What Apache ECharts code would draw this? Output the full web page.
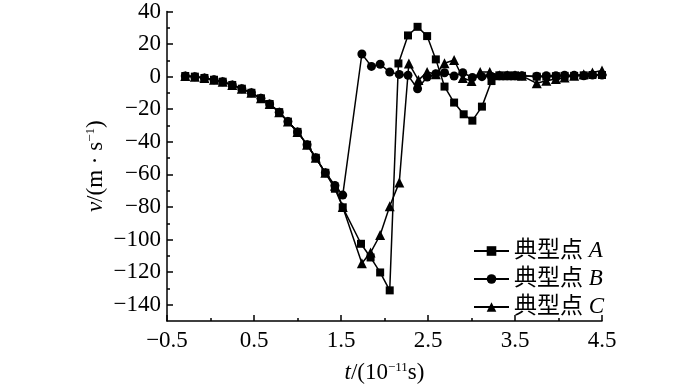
<!DOCTYPE html>
<html><head><meta charset="utf-8">
<script src="https://cdn.jsdelivr.net/npm/echarts@6/dist/echarts.min.js"></script>
<style>html,body{margin:0;padding:0;background:#fff}#c{width:700px;height:389px}</style>
</head><body><div id="c"></div>
<script>
const tA = [-0.29,-0.18,-0.07,0.04,0.14,0.25,0.36,0.47,0.58,0.68,0.79,0.89,1.00,1.11,1.21,1.32,1.43,1.52,1.73,1.84,1.95,2.06,2.16,2.27,2.38,2.49,2.59,2.69,2.80,2.91,3.01,3.12,3.23,3.32,3.41,3.50,3.58,3.75,3.86,3.97,4.07,4.18,4.29,4.39,4.50];
const vA = [0.4,0,-0.8,-1.9,-3.1,-5.1,-7.4,-9.9,-13.3,-16.8,-21.8,-27.6,-33.9,-41.8,-49.8,-59,-68.8,-80.2,-102.6,-111,-120.2,-131.2,8.1,25.3,30.6,24.9,10.6,-6.1,-15.9,-23.1,-27,-18.4,-2.7,0.8,0.8,0.8,0.5,0,0,0.3,0.5,0.5,0.8,1,1];
const tB = [-0.29,-0.18,-0.07,0.04,0.14,0.25,0.36,0.47,0.58,0.68,0.79,0.89,1.00,1.11,1.21,1.32,1.43,1.52,1.74,1.85,1.95,2.06,2.17,2.27,2.38,2.49,2.59,2.69,2.80,2.90,3.01,3.12,3.23,3.32,3.41,3.50,3.58,3.75,3.86,3.97,4.07,4.18,4.29,4.39,4.50];
const vB = [0.4,0,-0.8,-1.9,-3.1,-5.1,-7.4,-9.9,-13.3,-16.8,-21.8,-27.6,-33.9,-41.8,-49.8,-59,-66.8,-72.7,13.9,6.3,7.6,2.8,1.4,0.8,-7.4,-0.2,1.8,2.4,0.4,2.4,-0.5,0,0,0.5,0.5,0.5,0.5,0.3,0.5,0.5,0.8,0.8,0.5,1,1];
const tC = [-0.29,-0.18,-0.07,0.04,0.14,0.25,0.36,0.47,0.58,0.68,0.79,0.89,1.00,1.11,1.21,1.32,1.43,1.52,1.74,1.84,1.95,2.06,2.17,2.28,2.39,2.49,2.59,2.69,2.80,2.90,3.00,3.10,3.21,3.32,3.41,3.50,3.58,3.75,3.86,3.97,4.07,4.18,4.29,4.39,4.50];
const vC = [0.4,0,-0.8,-1.9,-3.1,-5.1,-7.4,-9.9,-13.3,-16.8,-21.8,-27.6,-33.9,-41.8,-49.8,-59,-67,-80,-114.5,-108,-97.2,-79.6,-64.9,8.1,-2.1,2.8,1.5,8.2,10.2,-0.8,-2.7,2.8,2.8,0.8,0.8,0.8,0.5,-4.1,-2.5,-1.5,-0.5,0.5,1.5,2.5,3.8];
const seriesNames = ['典型点A','典型点B','典型点C'];
const yMajorTicks = [-140,-120,-100,-80,-60,-40,-20,0,20,40];
const yMinorTicks = [-130,-110,-90,-70,-50,-30,-10,10,30];

const FONT = "'Liberation Serif','Noto Sans CJK SC',serif";
const fmt = v => (v < 0 ? '\u2212' + Math.abs(v) : String(v));
const pairs = (t, v) => t.map((x, i) => [x, v[i]]);

const chart = echarts.init(document.getElementById('c'), null, {renderer: 'canvas'});
const mk = (name, t, v, sym, size) => ({
  name, type: 'line', data: pairs(t, v), symbol: sym, symbolSize: size,
  lineStyle: {color: '#000', width: 1.5}, itemStyle: {color: '#000'},
  animation: false, z: 3
});
const nameRich = {
  i: {fontFamily: FONT, fontStyle: 'italic', fontSize: 23, color: '#000'},
  sup: {fontFamily: FONT, fontSize: 13, color: '#000', verticalAlign: 'top', padding: [0,0,10,0]}
};
chart.setOption({
  animation: false,
  grid: {left: 167, right: 98, top: 7, bottom: 60},
  legend: {
    orient: 'vertical', left: 468, top: 233, itemWidth: 35, itemHeight: 12, itemGap: 2,
    textStyle: {fontFamily: FONT, fontSize: 23, color: '#000', lineHeight: 26,
      rich: {i: {fontFamily: FONT, fontStyle: 'italic', fontSize: 23, color: '#000'}}},
    formatter: n => n.slice(0, 3) + ' {i|' + n.slice(3) + '}',
    data: seriesNames
  },
  xAxis: {
    type: 'value', min: -0.5, max: 4.5, interval: 1,
    name: '{i|t}/(10{sup|\u221211}s)', nameLocation: 'middle', nameGap: 40, nameMoveOverlap: false,
    nameTextStyle: {fontFamily: FONT, fontSize: 23, color: '#000', rich: nameRich},
    axisLine: {onZero: false, lineStyle: {color: '#000', width: 1.5}},
    axisTick: {inside: true, length: 6, lineStyle: {color: '#000', width: 1.5}},
    minorTick: {show: true, splitNumber: 2, length: 3, lineStyle: {color: '#000', width: 1.5}},
    axisLabel: {fontFamily: FONT, fontSize: 23, color: '#000', margin: 8, formatter: v => fmt(v)},
    splitLine: {show: false}
  },
  yAxis: [{
    type: 'value', min: -150, max: 40,
    name: '{i|v}/(m \u00b7 s{sup|\u22121})', nameLocation: 'middle', nameGap: 60, nameRotate: 90, nameMoveOverlap: false,
    nameTextStyle: {fontFamily: FONT, fontSize: 23, color: '#000', rich: nameRich},
    axisLine: {show: true, onZero: false, lineStyle: {color: '#000', width: 1.5}},
    axisTick: {show: true, inside: true, length: 6, customValues: yMajorTicks, lineStyle: {color: '#000', width: 1.5}},
    axisLabel: {fontFamily: FONT, fontSize: 23, color: '#000', margin: 6, customValues: yMajorTicks, formatter: v => fmt(v)},
    splitLine: {show: false}
  }, {
    type: 'value', min: -150, max: 40, position: 'left', offset: 0,
    axisLine: {show: false, onZero: false},
    axisTick: {show: true, inside: true, length: 3, customValues: yMinorTicks, lineStyle: {color: '#000', width: 1.5}},
    axisLabel: {show: false},
    splitLine: {show: false}
  }],
  series: [
    mk(seriesNames[0], tA, vA, 'rect', 8),
    mk(seriesNames[1], tB, vB, 'circle', 9),
    mk(seriesNames[2], tC, vC, 'triangle', 10)
  ]
});
</script></body></html>
